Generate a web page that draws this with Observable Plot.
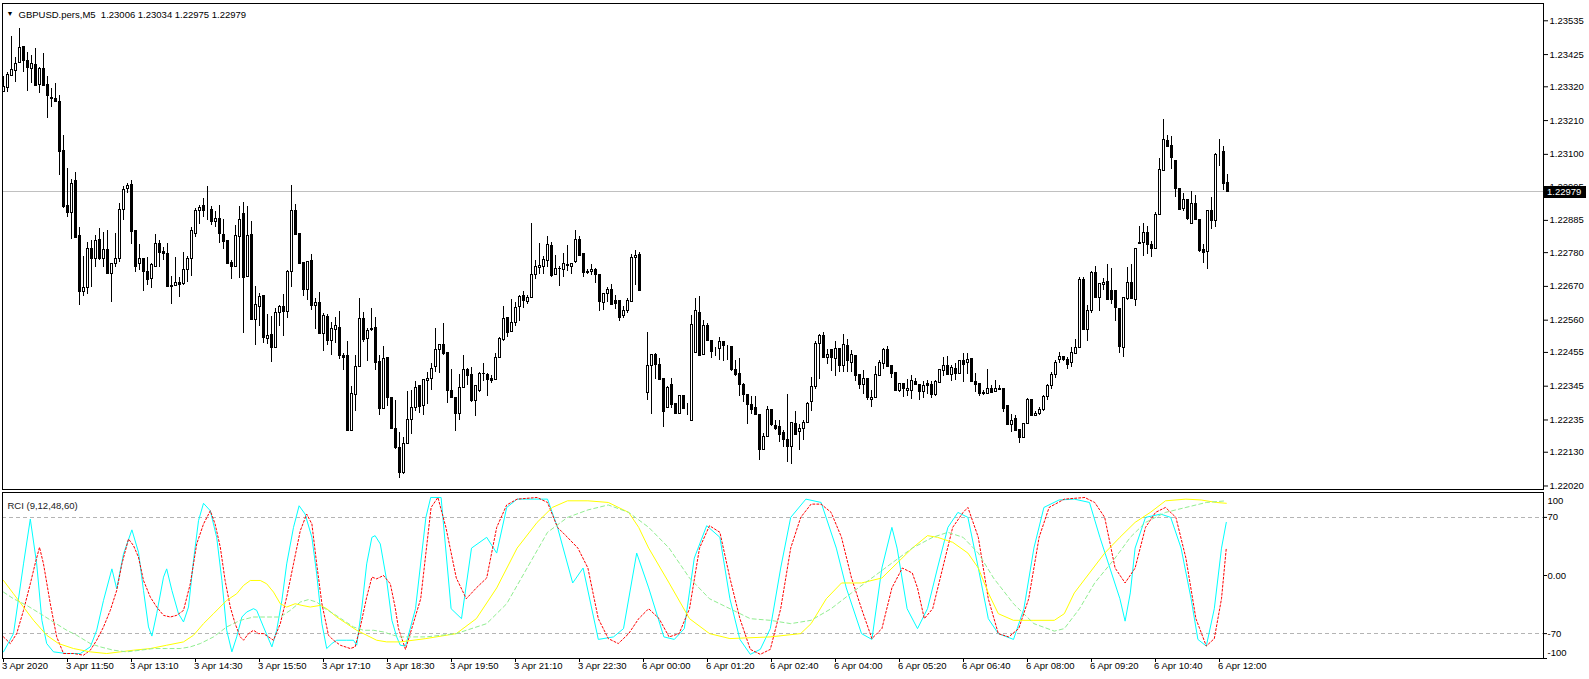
<!DOCTYPE html>
<html><head><meta charset="utf-8">
<script src="https://cdn.jsdelivr.net/npm/d3@7"></script>
<script src="https://cdn.jsdelivr.net/npm/@observablehq/plot@0.6"></script>
<style>
body{margin:0;background:#fff;}
#wrap{position:relative;width:1589px;height:679px;overflow:hidden;background:#fff;}
#main,#rci{position:absolute;left:0;}
#main{top:0;} #rci{top:490px;}
</style></head><body><div id="wrap"><div id="main"></div><div id="rci"></div></div>
<script>
const chartTitle = "GBPUSD.pers,M5  1.23006 1.23034 1.22975 1.22979";
const rciTitle = "RCI (9,12,48,60)";

const open = [1.23303,1.23316,1.23355,1.23373,1.23397,1.23451,1.23403,1.23379,1.23390,1.23327,1.23379,1.23327,1.23284,1.23281,1.23272,1.23110,1.22931,1.22909,1.23012,1.22833,
1.22652,1.22666,1.22793,1.22760,1.22822,1.22760,1.22790,1.22709,1.22744,1.22758,1.22920,1.22988,1.22999,1.22849,1.22744,1.22758,1.22717,1.22695,1.22733,1.22809,
1.22782,1.22777,1.22670,1.22671,1.22682,1.22677,1.22724,1.22758,1.22842,1.22915,1.22931,1.22912,1.22918,1.22880,1.22891,1.22836,1.22818,1.22747,1.22733,1.22831,
1.22905,1.22701,1.22836,1.22560,1.22603,1.22638,1.22499,1.22511,1.22470,1.22584,1.22603,1.22587,1.22717,1.22914,1.22842,1.22746,1.22657,1.22752,1.22605,1.22617,
1.22516,1.22570,1.22492,1.22529,1.22536,1.22442,1.22442,1.22199,1.22316,1.22406,1.22565,1.22500,1.22527,1.22533,1.22424,1.22270,1.22437,1.22305,1.22204,1.22144,
1.22061,1.22158,1.22236,1.22275,1.22345,1.22279,1.22362,1.22367,1.22407,1.22464,1.22478,1.22454,1.22331,1.22308,1.22256,1.22340,1.22397,1.22380,1.22297,1.22329,
1.22385,1.22380,1.22369,1.22364,1.22438,1.22494,1.22567,1.22521,1.22551,1.22603,1.22639,1.22619,1.22633,1.22708,1.22731,1.22733,1.22752,1.22801,1.22708,1.22726,
1.22724,1.22739,1.22733,1.22749,1.22822,1.22774,1.22717,1.22717,1.22724,1.22708,1.22617,1.22646,1.22657,1.22621,1.22621,1.22573,1.22590,1.22620,1.22761,1.22771,
1.22298,1.22324,1.22411,1.22448,1.22415,1.22367,1.22275,1.22348,1.22288,1.22255,1.22312,1.22274,1.22232,1.22453,1.22584,1.22448,1.22540,1.22492,1.22458,1.22465,
1.22489,1.22475,1.22472,1.22399,1.22384,1.22348,1.22315,1.22283,1.22274,1.22250,1.22136,1.22180,1.22266,1.22214,1.22212,1.22193,1.22169,1.22147,1.22223,1.22196,
1.22207,1.22225,1.22293,1.22342,1.22481,1.22510,1.22438,1.22462,1.22435,1.22467,1.22411,1.22475,1.22422,1.22442,1.22380,1.22348,1.22370,1.22299,1.22307,1.22378,
1.22418,1.22462,1.22410,1.22388,1.22328,1.22351,1.22328,1.22329,1.22359,1.22348,1.22326,1.22351,1.22348,1.22315,1.22356,1.22395,1.22410,1.22383,1.22402,1.22386,
1.22426,1.22421,1.22433,1.22359,1.22351,1.22323,1.22321,1.22335,1.22326,1.22337,1.22335,1.22280,1.22220,1.22237,1.22201,1.22176,1.22223,1.22299,1.22248,1.22256,
1.22269,1.22310,1.22345,1.22380,1.22429,1.22440,1.22429,1.22420,1.22451,1.22471,1.22692,1.22527,1.22590,1.22715,1.22633,1.22675,1.22684,1.22654,1.22654,1.22597,
1.22471,1.22628,1.22682,1.22627,1.22807,1.22812,1.22845,1.22806,1.22793,1.22904,1.23047,1.23145,1.23126,1.23077,1.22988,1.22923,1.22952,1.22874,1.22939,1.22885,
1.22787,1.22782,1.22917,1.22883,1.23105,1.23107,1.23006];
const high = [1.23352,1.23368,1.23484,1.23417,1.23509,1.23451,1.23431,1.23422,1.23444,1.23384,1.23428,1.23352,1.23314,1.23330,1.23292,1.23162,1.23053,1.23017,1.23042,1.22861,
1.22768,1.22812,1.22820,1.22836,1.22858,1.22846,1.22852,1.22744,1.22842,1.22941,1.22996,1.23004,1.23015,1.22849,1.22807,1.22758,1.22764,1.22744,1.22839,1.22820,
1.22798,1.22811,1.22703,1.22764,1.22698,1.22780,1.22766,1.22863,1.22923,1.22934,1.22956,1.22994,1.22931,1.22914,1.22934,1.22887,1.22820,1.22755,1.22869,1.22931,
1.22943,1.22929,1.22882,1.22670,1.22646,1.22638,1.22579,1.22573,1.22598,1.22608,1.22644,1.22722,1.22999,1.22937,1.22842,1.22746,1.22750,1.22775,1.22630,1.22650,
1.22581,1.22578,1.22551,1.22568,1.22588,1.22451,1.22491,1.22345,1.22446,1.22630,1.22585,1.22533,1.22598,1.22568,1.22446,1.22473,1.22440,1.22305,1.22299,1.22193,
1.22178,1.22329,1.22332,1.22359,1.22345,1.22364,1.22389,1.22420,1.22532,1.22481,1.22548,1.22454,1.22399,1.22308,1.22384,1.22445,1.22402,1.22405,1.22345,1.22391,
1.22420,1.22386,1.22380,1.22451,1.22505,1.22603,1.22570,1.22628,1.22619,1.22641,1.22652,1.22641,1.22874,1.22755,1.22811,1.22768,1.22833,1.22812,1.22771,1.22735,
1.22776,1.22803,1.22746,1.22852,1.22833,1.22774,1.22724,1.22742,1.22728,1.22708,1.22646,1.22668,1.22675,1.22641,1.22621,1.22605,1.22630,1.22774,1.22787,1.22780,
1.22298,1.22521,1.22448,1.22451,1.22435,1.22367,1.22344,1.22369,1.22288,1.22315,1.22312,1.22288,1.22576,1.22630,1.22637,1.22559,1.22548,1.22492,1.22470,1.22505,
1.22492,1.22478,1.22472,1.22429,1.22435,1.22353,1.22315,1.22312,1.22312,1.22250,1.22190,1.22279,1.22266,1.22234,1.22234,1.22201,1.22318,1.22226,1.22264,1.22221,
1.22234,1.22293,1.22373,1.22489,1.22514,1.22521,1.22464,1.22464,1.22489,1.22467,1.22514,1.22497,1.22462,1.22442,1.22384,1.22397,1.22370,1.22332,1.22408,1.22429,
1.22467,1.22473,1.22410,1.22391,1.22351,1.22351,1.22367,1.22380,1.22370,1.22348,1.22359,1.22364,1.22359,1.22364,1.22397,1.22440,1.22443,1.22413,1.22418,1.22429,
1.22451,1.22451,1.22435,1.22386,1.22351,1.22332,1.22399,1.22348,1.22362,1.22346,1.22335,1.22280,1.22252,1.22250,1.22201,1.22223,1.22305,1.22299,1.22261,1.22277,
1.22315,1.22352,1.22388,1.22428,1.22456,1.22442,1.22440,1.22470,1.22498,1.22698,1.22700,1.22608,1.22719,1.22736,1.22679,1.22697,1.22742,1.22728,1.22654,1.22597,
1.22635,1.22733,1.22742,1.22795,1.22865,1.22874,1.22865,1.22815,1.22912,1.23088,1.23214,1.23162,1.23158,1.23077,1.22988,1.22972,1.22952,1.22980,1.22966,1.22885,
1.22807,1.22917,1.22961,1.23104,1.23148,1.23126,1.23034];
const low = [1.23303,1.23303,1.23355,1.23333,1.23395,1.23365,1.23306,1.23330,1.23322,1.23297,1.23322,1.23218,1.23254,1.23270,1.23032,1.22923,1.22896,1.22822,1.22829,1.22608,
1.22638,1.22644,1.22665,1.22733,1.22755,1.22733,1.22709,1.22619,1.22731,1.22749,1.22883,1.22974,1.22807,1.22714,1.22722,1.22652,1.22673,1.22663,1.22733,1.22733,
1.22755,1.22668,1.22612,1.22671,1.22635,1.22673,1.22684,1.22703,1.22828,1.22872,1.22896,1.22883,1.22869,1.22861,1.22811,1.22791,1.22742,1.22693,1.22731,1.22697,
1.22518,1.22701,1.22560,1.22476,1.22538,1.22484,1.22482,1.22421,1.22467,1.22540,1.22508,1.22567,1.22668,1.22836,1.22742,1.22636,1.22623,1.22592,1.22530,1.22514,
1.22457,1.22476,1.22444,1.22484,1.22432,1.22395,1.22199,1.22196,1.22261,1.22406,1.22486,1.22424,1.22522,1.22397,1.22250,1.22270,1.22278,1.22204,1.22139,1.22046,
1.22058,1.22156,1.22188,1.22261,1.22256,1.22250,1.22286,1.22331,1.22391,1.22386,1.22445,1.22290,1.22307,1.22196,1.22232,1.22340,1.22346,1.22293,1.22247,1.22323,
1.22359,1.22310,1.22353,1.22362,1.22435,1.22492,1.22505,1.22519,1.22538,1.22557,1.22599,1.22611,1.22633,1.22692,1.22708,1.22708,1.22730,1.22700,1.22706,1.22671,
1.22700,1.22717,1.22708,1.22746,1.22766,1.22700,1.22708,1.22706,1.22679,1.22589,1.22590,1.22616,1.22608,1.22595,1.22557,1.22565,1.22583,1.22620,1.22673,1.22655,
1.22298,1.22297,1.22252,1.22366,1.22366,1.22210,1.22275,1.22272,1.22255,1.22255,1.22272,1.22250,1.22232,1.22451,1.22442,1.22448,1.22492,1.22435,1.22442,1.22429,
1.22427,1.22429,1.22393,1.22377,1.22312,1.22293,1.22221,1.22253,1.22250,1.22104,1.22136,1.22177,1.22215,1.22201,1.22163,1.22147,1.22095,1.22091,1.22187,1.22134,
1.22169,1.22223,1.22264,1.22334,1.22366,1.22438,1.22416,1.22394,1.22375,1.22389,1.22389,1.22389,1.22391,1.22361,1.22335,1.22319,1.22299,1.22277,1.22307,1.22378,
1.22399,1.22408,1.22370,1.22328,1.22326,1.22308,1.22312,1.22301,1.22346,1.22299,1.22305,1.22318,1.22305,1.22310,1.22356,1.22377,1.22380,1.22361,1.22364,1.22383,
1.22356,1.22383,1.22359,1.22326,1.22310,1.22315,1.22318,1.22321,1.22326,1.22334,1.22259,1.22218,1.22193,1.22199,1.22158,1.22176,1.22223,1.22248,1.22245,1.22250,
1.22262,1.22300,1.22335,1.22370,1.22420,1.22425,1.22400,1.22405,1.22451,1.22467,1.22527,1.22492,1.22581,1.22633,1.22587,1.22657,1.22625,1.22611,1.22557,1.22453,
1.22438,1.22624,1.22628,1.22606,1.22807,1.22766,1.22774,1.22763,1.22793,1.22901,1.23047,1.23124,1.23050,1.22958,1.22917,1.22915,1.22885,1.22874,1.22885,1.22782,
1.22744,1.22724,1.22855,1.22863,1.23059,1.22983,1.22975];
const close = [1.23319,1.23357,1.23375,1.23395,1.23447,1.23404,1.23381,1.23395,1.23322,1.23377,1.23324,1.23290,1.23280,1.23270,1.23107,1.22928,1.22909,1.23004,1.22829,1.22652,
1.22666,1.22793,1.22760,1.22817,1.22758,1.22787,1.22709,1.22744,1.22760,1.22920,1.22985,1.22996,1.22847,1.22733,1.22758,1.22717,1.22690,1.22739,1.22809,1.22780,
1.22777,1.22668,1.22669,1.22682,1.22673,1.22722,1.22758,1.22849,1.22915,1.22926,1.22915,1.22912,1.22880,1.22891,1.22842,1.22815,1.22744,1.22733,1.22833,1.22885,
1.22697,1.22833,1.22560,1.22609,1.22636,1.22502,1.22508,1.22470,1.22585,1.22603,1.22587,1.22717,1.22914,1.22836,1.22744,1.22657,1.22750,1.22605,1.22616,1.22514,
1.22574,1.22492,1.22530,1.22540,1.22444,1.22438,1.22199,1.22321,1.22408,1.22565,1.22497,1.22525,1.22530,1.22422,1.22272,1.22435,1.22305,1.22207,1.22144,1.22063,
1.22158,1.22236,1.22275,1.22340,1.22277,1.22364,1.22369,1.22402,1.22464,1.22478,1.22449,1.22329,1.22307,1.22256,1.22340,1.22399,1.22378,1.22297,1.22345,1.22386,
1.22386,1.22366,1.22361,1.22438,1.22500,1.22565,1.22519,1.22552,1.22601,1.22635,1.22624,1.22633,1.22708,1.22733,1.22735,1.22755,1.22806,1.22704,1.22728,1.22728,
1.22742,1.22738,1.22744,1.22822,1.22769,1.22713,1.22714,1.22724,1.22708,1.22619,1.22646,1.22657,1.22610,1.22614,1.22568,1.22589,1.22621,1.22761,1.22770,1.22655,
1.22298,1.22411,1.22448,1.22415,1.22366,1.22261,1.22340,1.22285,1.22255,1.22312,1.22272,1.22274,1.22543,1.22589,1.22442,1.22540,1.22492,1.22456,1.22458,1.22489,
1.22476,1.22475,1.22397,1.22380,1.22348,1.22315,1.22283,1.22269,1.22250,1.22136,1.22180,1.22266,1.22218,1.22207,1.22187,1.22169,1.22147,1.22226,1.22187,1.22207,
1.22225,1.22286,1.22342,1.22481,1.22510,1.22438,1.22448,1.22437,1.22467,1.22411,1.22478,1.22427,1.22446,1.22378,1.22348,1.22370,1.22307,1.22308,1.22380,1.22422,
1.22462,1.22408,1.22384,1.22328,1.22351,1.22335,1.22337,1.22361,1.22348,1.22326,1.22345,1.22346,1.22315,1.22359,1.22397,1.22410,1.22380,1.22405,1.22386,1.22426,
1.22415,1.22431,1.22359,1.22348,1.22318,1.22318,1.22337,1.22323,1.22337,1.22334,1.22272,1.22218,1.22231,1.22199,1.22176,1.22223,1.22299,1.22248,1.22256,1.22269,
1.22310,1.22345,1.22380,1.22420,1.22440,1.22429,1.22415,1.22454,1.22471,1.22692,1.22527,1.22590,1.22715,1.22633,1.22679,1.22682,1.22625,1.22625,1.22601,1.22473,
1.22632,1.22682,1.22628,1.22793,1.22812,1.22845,1.22806,1.22791,1.22904,1.23050,1.23148,1.23124,1.23089,1.22988,1.22920,1.22953,1.22888,1.22939,1.22885,1.22785,
1.22779,1.22917,1.22883,1.23097,1.23105,1.23004,1.22979];

const priceTicks = [1.22020,1.22130,1.22235,1.22345,1.22455,1.22560,1.22670,1.22780,1.22885,1.22995,1.23100,1.23210,1.23320,1.23425,1.23535];
const timeTickBars = [0,16,32,48,64,80,96,112,128,144,160,176,192,208,224,240,256,272,288,304];
const timeTickLabels = ["3 Apr 2020","3 Apr 11:50","3 Apr 13:10","3 Apr 14:30","3 Apr 15:50","3 Apr 17:10","3 Apr 18:30","3 Apr 19:50","3 Apr 21:10","3 Apr 22:30",
"6 Apr 00:00","6 Apr 01:20","6 Apr 02:40","6 Apr 04:00","6 Apr 05:20","6 Apr 06:40","6 Apr 08:00","6 Apr 09:20","6 Apr 10:40","6 Apr 12:00"];
const rciLevels = [70, -70];
const rciTickValues = [70, 0, -70, -100];
const rciLabelValues = [100, 70, 0, -70, -100];
const rciLabelTexts = ["100", "70", "0.00", "-70", "-100"];

// RCI series: [bar index, value]
const rci9 = [[0,-92],[2.5,-70],[5,14],[6.7,68],[8.3,14],[9.6,-54],[10.8,-82],[12.5,-92],[15.8,-94],[19.2,-94],[21.7,-86],[23.3,-66],[25,-30],[27.1,8],[28.3,-16],[30,26],[32.1,55],[33.75,28],[35,-18],[36.25,-62],[37.1,-73],[38.3,-46],[40,-2],[40.8,8],[42.1,-18],[43.75,-46],[45,-56],[46.25,-38],[47.5,18],[48.75,66],[50,87],[51.7,78],[53.3,46],[54.6,-6],[55.8,-66],[57.1,-92],[58.3,-74],[59.6,-50],[60.8,-44],[62.5,-40],[63.3,-42],[65,-62],[67.1,-86],[68.3,-66],[69.6,-30],[70.8,14],[72.5,58],[73.9,84],[75.4,74],[77.1,46],[78.3,2],[79.6,-58],[80.8,-88],[82.1,-82],[83.3,-78],[85.8,-78],[87.5,-78],[88.3,-84],[89.6,-38],[90.8,14],[92.1,46],[92.9,48],[94.2,38],[95.8,-6],[97.1,-54],[98.3,-74],[99.2,-84],
[100.5,-85],[103,-40],[105.6,70],[106.8,94],[109.4,94],[111.9,-40],[114.5,-52],[117,33],[120.8,46],[123.3,27],[125.8,82],[128.4,92],[136,92],[138.5,58],[142.3,-9],[144.9,9],[148.7,-77],[152.5,-74],[155,-64],[158.3,27],[161.3,-15],[165.1,-74],[167.7,-77],[170.2,-64],[172.7,21],[175.8,60],[179.1,46],[181.6,-28],[184.1,-77],[186.7,-95],[189.2,-89],[191.7,-64],[194.3,9],[196.8,70],[200.6,92],[204.4,88],[208.2,33],[210.7,-15],[214.5,-70],[217.1,-77],[219.6,9],[222.1,58],[223.4,33],[225.9,-40],[228.5,-64],[231,-40],[233.5,9],[236.1,58],[238.6,76],[241.1,70],[243.7,9],[246.2,-52],[248.7,-70],[252.5,-77],[255.1,-40],[257.6,33],[260.1,82],[263.9,91],[267.7,92],[271.5,88],[274.1,46],[276.6,9],[279.1,-28],[280.4,-55],[281.7,-21],[282.9,33],[285.5,70],[289.3,74],[291.8,70],[294.4,33],[296.9,-28],[298.6,-77],[300.7,-85],[302.7,-40],[304.5,33],[305.7,64]];
const rci12 = [[0,-74],[1.7,-82],[3.3,-70],[5,-42],[6.7,-10],[7.9,14],[9,34],[10,14],[11.7,-34],[13.3,-74],[15,-94],[17.5,-94],[20,-96],[21.7,-90],[23.3,-78],[25,-62],[26.7,-42],[28.3,-18],[29.6,14],[31.25,44],[32.5,36],[33.75,22],[35,-6],[36.7,-26],[38.3,-38],[40,-48],[41.7,-50],[43.3,-48],[45,-42],[46.7,-10],[48.3,38],[50,62],[51.7,78],[52.9,62],[54.2,34],[55.4,-6],[56.7,-38],[57.9,-58],[59.2,-74],[60,-78],[61.25,-70],[62.5,-66],[63.75,-70],[65,-70],[66.25,-74],[67.5,-78],[69.2,-58],[70.8,-26],[72.5,14],[74.2,54],[75.8,74],[77.1,62],[78.3,14],[79.6,-34],[81.25,-72],[82.5,-78],[84.2,-84],[86.7,-88],[87.9,-86],[89.2,-62],[90.8,-26],[92.1,-2],[93.3,-4],[95,0],[96.7,-10],[97.9,-38],[98.75,-64],
[100.5,-89],[104.3,-28],[106.9,82],[108.6,94],[110.6,58],[113.2,-3],[115.7,-28],[118.2,-15],[120.8,-3],[123.3,58],[125.8,85],[128.4,92],[133.4,94],[136,88],[138.5,58],[141,46],[143.6,33],[146.1,9],[148.7,-52],[151.2,-76],[153.7,-82],[156.3,-70],[158.8,-52],[161.3,-40],[163.9,-52],[166.4,-74],[168.9,-70],[171.5,-40],[174,33],[176.5,60],[179.1,52],[181.6,-3],[184.1,-52],[186.7,-89],[189.2,-95],[191.7,-89],[194.3,-40],[196.8,33],[199.3,70],[201.9,86],[204.4,86],[206.9,76],[209.5,46],[212,-3],[214.5,-40],[217.1,-76],[219.6,-64],[222.1,-15],[224.7,9],[227.2,3],[228.5,-15],[230.2,-52],[232.3,-40],[234.8,9],[237.3,58],[239.9,76],[241.1,82],[243.7,46],[246.2,-28],[248.7,-70],[251.3,-74],[253.8,-64],[256.3,-28],[258.9,46],[261.4,82],[265.2,92],[270.3,94],[272.8,88],[275.3,70],[277.9,9],[280.4,-9],[282.9,9],[285.5,58],[288,76],[290.5,82],[293.1,70],[295.6,21],[298.1,-52],[300.7,-85],[302.7,-76],[304.5,-28],[305.7,33]];
const rci48 = [[0,-6],[2.5,-22],[5,-38],[7.5,-54],[10.8,-72],[13.75,-82],[17.5,-88],[21.7,-92],[25.8,-94],[29.2,-92],[32.5,-90],[36.7,-88],[40.8,-84],[45,-80],[47.5,-72],[50,-58],[52.5,-46],[55.8,-30],[58.3,-22],[60,-12],[61.7,-6],[64.2,-6],[65.8,-10],[67.5,-20],[69.2,-34],[70.8,-38],[72.9,-34],[74.6,-36],[76.7,-38],[79.2,-36],[80.8,-40],[83.3,-50],[85.8,-58],[88.3,-66],[90.8,-72],[93.3,-78],[95.8,-80],[99.2,-80],
[105.6,-76],[113.2,-70],[118.2,-52],[123.3,-15],[128.4,33],[133.4,64],[137.2,82],[141,90],[146.1,90],[151.2,88],[156.3,76],[158.8,58],[161.3,33],[166.4,-9],[171.5,-52],[176.5,-70],[181.6,-76],[191.7,-74],[199.3,-70],[201.9,-58],[205.7,-28],[209.5,-9],[214.5,-9],[219.6,-3],[223.4,15],[227.2,33],[231,48],[233.5,46],[237.3,40],[241.1,27],[243.7,9],[246.2,-21],[248.7,-46],[252.5,-54],[257.6,-54],[262.7,-54],[265.2,-46],[267.7,-21],[271.5,3],[275.3,27],[279.1,46],[282.9,64],[286.7,76],[290.5,90],[295.6,92],[299.4,91],[303.2,88],[305.7,87]];
const rci60 = [[0,-20],[2.5,-28],[5.8,-36],[9.2,-46],[12.5,-56],[15.8,-66],[18.3,-72],[21.7,-82],[24.2,-86],[27.5,-90],[30.8,-92],[34.2,-90],[37.5,-88],[40.8,-88],[44.2,-88],[46.7,-86],[49.2,-82],[52.5,-74],[55.8,-62],[59.2,-54],[62.5,-50],[65.8,-50],[69.2,-50],[71.7,-42],[74.2,-32],[76.25,-29],[78.3,-32],[80.4,-40],[82.5,-46],[85,-54],[87.5,-62],[90,-66],[92.5,-66],[95,-68],[97.5,-72],[99.2,-74],
[105.6,-74],[113.2,-70],[120.8,-58],[125.8,-34],[130.9,9],[136,52],[141,70],[146.1,79],[151.2,85],[156.3,76],[161.3,58],[166.4,33],[171.5,-3],[176.5,-28],[181.6,-40],[186.7,-52],[191.7,-54],[196.8,-58],[201.9,-54],[206.9,-40],[212,-21],[217.1,-3],[222.1,15],[227.2,33],[232.3,46],[236.1,52],[239.9,46],[243.7,27],[247.5,-3],[252.5,-34],[257.6,-58],[262.7,-67],[265.2,-64],[269,-40],[272.8,-9],[277.9,21],[281.7,46],[285.5,64],[290.5,76],[295.6,82],[300.7,88],[305.7,90]];

// ---------- layout ----------
const W = 1589;
const FONT = '"Liberation Sans", Arial, sans-serif';
const xDomain = [-0.25, 385];
const mainH = 490, mainTop = 3, mainBottom = 1;
const yDomain = [1.220086, 1.235913];

const bars = d3.range(close.length).map(i => ({i, o: open[i], h: high[i], l: low[i], c: close[i]}));
const bull = bars.filter(d => d.c >= d.o);
const bear = bars.filter(d => d.c < d.o);
const last = bars[bars.length - 1];

const mainPlot = Plot.plot({
  width: W, height: mainH,
  marginLeft: 2, marginRight: 46, marginTop: mainTop, marginBottom: mainBottom,
  style: {fontFamily: FONT, fontSize: "9.5px", color: "black", background: "white", overflow: "visible"},
  x: {domain: xDomain, axis: null},
  y: {domain: yDomain, axis: "right", ticks: priceTicks, tickFormat: d => d.toFixed(5), tickSize: 4, tickPadding: 2, label: null},
  marks: [
    Plot.ruleY([last.c], {stroke: "#c0c0c0", shapeRendering: "crispEdges"}),
    Plot.ruleX(bars, {x: "i", y1: "l", y2: "h", stroke: "black", strokeWidth: 1, shapeRendering: "crispEdges"}),
    Plot.rect(bull, {x1: d => d.i - 0.25, x2: d => d.i + 0.25, y1: "o", y2: "c", fill: "white", stroke: "black", strokeWidth: 1, shapeRendering: "crispEdges"}),
    Plot.rect(bear, {x1: d => d.i - 0.25, x2: d => d.i + 0.25, y1: "o", y2: "c", fill: "black", stroke: "black", strokeWidth: 1, shapeRendering: "crispEdges"}),
    Plot.frame({stroke: "black", shapeRendering: "crispEdges"}),
    Plot.text([chartTitle], {frameAnchor: "top-left", dx: 16, dy: 8, textAnchor: "start", fill: "black", fontSize: 9.5}),
    Plot.text(["\u25BC"], {frameAnchor: "top-left", dx: 4, dy: 8, textAnchor: "start", fill: "black", fontSize: 7})
  ]
});
document.getElementById("main").appendChild(mainPlot);

// current price box (on the right axis)
{
  const yS = d3.scaleLinear(yDomain, [mainH - mainBottom, mainTop]);
  const yy = Math.round(yS(last.c));
  const svg = d3.select(mainPlot);
  svg.append("rect").attr("x", 1544).attr("y", yy - 5).attr("width", 42).attr("height", 12).attr("fill", "black");
  svg.append("text").attr("x", 1547).attr("y", yy + 1).attr("dy", "0.32em").attr("text-anchor", "start")
    .attr("fill", "white").attr("font-size", "9.5px").attr("font-family", FONT).text(last.c.toFixed(5));
}

const rciH = 189;
const toPts = arr => arr.map(([b, v]) => ({b, v}));
const rciPlot = Plot.plot({
  width: W, height: rciH,
  marginLeft: 2, marginRight: 46, marginTop: 2, marginBottom: 21,
  style: {fontFamily: FONT, fontSize: "9.5px", color: "black", background: "white", overflow: "visible"},
  x: {domain: xDomain, axis: "bottom", ticks: timeTickBars, tickFormat: () => "", tickSize: 4, label: null},
  y: {domain: [-100, 100], axis: "right", ticks: rciTickValues, tickFormat: () => "", tickSize: 3, label: null},
  marks: [
    Plot.ruleY(rciLevels, {stroke: "#b4b4b4", strokeDasharray: "4,3", shapeRendering: "crispEdges"}),
    Plot.line(toPts(rci9), {x: "b", y: "v", stroke: "#00ffff", strokeWidth: 1}),
    Plot.line(toPts(rci12), {x: "b", y: "v", stroke: "#ff0000", strokeWidth: 1, strokeDasharray: "2,2"}),
    Plot.line(toPts(rci48), {x: "b", y: "v", stroke: "#ffff00", strokeWidth: 1}),
    Plot.line(toPts(rci60), {x: "b", y: "v", stroke: "#90ee90", strokeWidth: 1, strokeDasharray: "4,3"}),
    Plot.frame({stroke: "black", shapeRendering: "crispEdges"}),
    Plot.text([rciTitle], {frameAnchor: "top-left", dx: 5, dy: 10, textAnchor: "start", fill: "#222"}),
    Plot.text(rciLabelValues.slice(1, 4), {y: d => d, text: (d, i) => rciLabelTexts[i + 1], frameAnchor: "right", dx: 4, textAnchor: "start", fill: "black"}),
    Plot.text([rciLabelValues[0]], {y: d => d, text: () => rciLabelTexts[0], frameAnchor: "right", dx: 4, dy: 8, textAnchor: "start", fill: "black"}),
    Plot.text([rciLabelValues[4]], {y: d => d, text: () => rciLabelTexts[4], frameAnchor: "right", dx: 4, dy: -6, textAnchor: "start", fill: "black"}),
    Plot.text(timeTickBars, {x: d => d, text: (d, i) => timeTickLabels[i], frameAnchor: "bottom", dy: 10, dx: -1.5, textAnchor: "start", fill: "black"})
  ]
});
document.getElementById("rci").appendChild(rciPlot);
</script></body></html>
